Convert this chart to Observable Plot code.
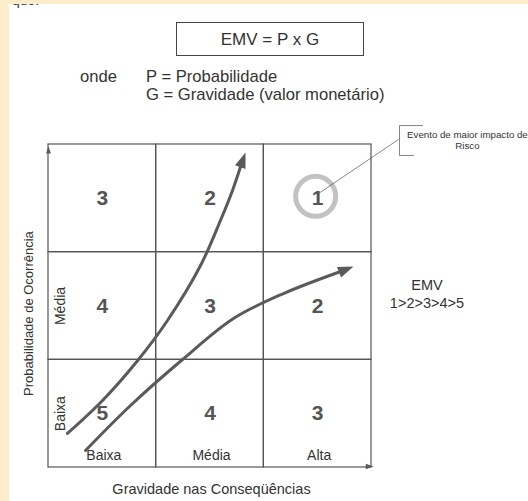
<!DOCTYPE html>
<html>
<head>
<meta charset="utf-8">
<script src="https://cdn.jsdelivr.net/npm/d3@7"></script>
<script src="https://cdn.jsdelivr.net/npm/@observablehq/plot@0.6"></script>
<style>
  body { margin: 0; }
  #page { position: relative; width: 528px; height: 501px; background: #fcecc9; overflow: hidden;
          font-family: "Liberation Sans", Arial, sans-serif; color: #333; }
  #sheet { position: absolute; left: 9px; top: 4px; width: 519px; height: 497px; background: #fff; overflow: hidden; }
  .t { position: absolute; white-space: nowrap; line-height: 1; }
  #box { position: absolute; left: 176px; top: 22px; width: 188px; height: 34px; box-sizing: border-box;
         border: 1.3px solid #444; display: flex; align-items: center; justify-content: center;
         font-size: 17px; line-height: 1; }
  #chart { position: absolute; left: 0; top: 110px; }
</style>
</head>
<body>
<div id="page">
  <div id="sheet">
    <div class="t" style="left:3px;top:-11.4px;font-size:14px;">que.</div>
  </div>
  <div id="box"></div>
  <div class="t" id="onde" style="left:80px;top:68.5px;font-size:16.6px;"></div>
  <div class="t" id="defP" style="left:146px;top:68.5px;font-size:16.6px;"></div>
  <div class="t" id="defG" style="left:146px;top:86.9px;font-size:16.6px;"></div>
  <div id="chart"></div>
</div>
<script>
// ---- text content ----
const formula = "EMV = P x G";
const ondeLabel = "onde";
const defP = "P = Probabilidade";
const defG = "G = Gravidade (valor monetário)";
const xTitle = "Gravidade nas Conseqüências";
const yTitle = "Probabilidade de Ocorrência";
const calloutText = "Evento de maior impacto de\nRisco";
const emvTitle = "EMV";
const ordemEMV = "1>2>3>4>5";

// ---- categories ----
const gravidade = ["Baixa", "Média", "Alta"];          // columns (x)
const probabilidade = ["Baixa", "Média", "Alta"];      // rows (y), bottom to top
const probLabels = ["Baixa", "Média"];                 // row labels printed on the axis

// ---- EMV rank per cell: rows = probabilidade (Baixa→Alta), cols = gravidade ----
const emvBaixa = [5, 4, 3];
const emvMedia = [4, 3, 2];
const emvAlta  = [3, 2, 1];
const emvRows = [emvBaixa, emvMedia, emvAlta];

// highlighted cell (maior impacto)
const destaqueCol = 2, destaqueRow = 2;

// ---- trend arrows (grid units, last point = arrow tip) ----
const arrowA_x = [0.176, 0.502, 0.836, 1.105, 1.412, 1.597, 1.709, 1.793, 1.830];
const arrowA_y = [0.316, 0.622, 1.003, 1.365, 1.876, 2.294, 2.573, 2.823, 2.926];
const arrowB_x = [0.344, 0.762, 1.245, 1.718, 2.183, 2.740, 2.833];
const arrowB_y = [0.158, 0.576, 1.003, 1.384, 1.616, 1.830, 1.867];

// ---- header (HTML) ----
document.getElementById("box").textContent = formula;
document.getElementById("onde").textContent = ondeLabel;
document.getElementById("defP").textContent = defP;
document.getElementById("defG").textContent = defG;

// ---- build tables ----
const cells = probabilidade.flatMap((p, i) => gravidade.map((g, j) => ({row: i, col: j, v: emvRows[i][j]})));
function pts(xs, ys) { return xs.map((x, i) => ({x, y: ys[i]})); }
const pathA = pts(arrowA_x, arrowA_y);
const pathB = pts(arrowB_x, arrowB_y);
function headOf(p) {
  const a = p[p.length - 2], b = p[p.length - 1];
  return {x: b.x, y: b.y, rotate: Math.atan2(b.x - a.x, b.y - a.y) * 180 / Math.PI};
}
const heads = [headOf(pathA), headOf(pathB)];

// arrowhead symbol: tip at origin, pointing up
const headSymbol = {
  draw(ctx, size) {
    const r = Math.sqrt(size / Math.PI);
    const L = 2.4 * r, w = 0.85 * r;
    ctx.moveTo(0, 0); ctx.lineTo(w, L); ctx.lineTo(-w, L); ctx.closePath();
  }
};

const ink = "#5a5a5a";
const gridInk = "#555";

const chart = Plot.plot({
  width: 528,
  height: 391,
  marginLeft: 48,
  marginRight: 157,
  marginTop: 34,
  marginBottom: 34,
  x: {domain: [0, 3], axis: null},
  y: {domain: [0, 3], axis: null},
  style: {fontFamily: '"Liberation Sans", Arial, sans-serif', background: "transparent", color: "#333", overflow: "visible"},
  marks: [
    // grid cells
    Plot.rect(cells, {x1: d => d.col, x2: d => d.col + 1, y1: d => d.row, y2: d => d.row + 1,
                      fill: "none", stroke: gridInk, strokeWidth: 1.2}),
    // highlighted ring
    Plot.dot([{col: destaqueCol, row: destaqueRow}], {x: d => d.col + 0.5, y: d => d.row + 0.5, dx: -2, dy: -2,
                      r: 20, fill: "none", stroke: "#c2c2c2", strokeWidth: 5}),
    // EMV numbers
    Plot.text(cells, {x: d => d.col + 0.5, y: d => d.row + 0.5, text: d => String(d.v),
                      fontSize: 21, fontWeight: "bold", fill: "#555"}),
    // axis arrowheads
    Plot.dot([{x: 0, y: 2.981, rotate: 0}, {x: 3.018, y: 0.009, rotate: 90}],
             {x: "x", y: "y", rotate: "rotate", r: d => d.rotate ? 5 : 4.2, symbol: headSymbol, fill: ink}),
    // category labels
    Plot.text(gravidade, {x: (d, i) => i + 0.5, y: 0, dx: 1.5, dy: -11.5, text: d => d, fontSize: 14, fill: "#333"}),
    Plot.text(probLabels, {x: 0, y: (d, i) => i + 0.5, dx: 12, rotate: -90, text: d => d, fontSize: 14, fill: "#333"}),
    // axis titles
    Plot.text([xTitle], {x: 1.5, y: 0, dx: 1.5, dy: 21.4, text: d => d, fontSize: 14.5, fill: "#333"}),
    Plot.text([yTitle], {x: 0, y: 1.43, dx: -19.5, rotate: -90, text: d => d, fontSize: 13, fill: "#333"}),
    // trend arrows
    Plot.line(pathA.slice(0, -1), {x: "x", y: "y", curve: "catmull-rom", stroke: ink, strokeWidth: 3}),
    Plot.line(pathB.slice(0, -1), {x: "x", y: "y", curve: "catmull-rom", stroke: ink, strokeWidth: 3}),
    Plot.dot(heads, {x: "x", y: "y", rotate: "rotate", r: 6.5, symbol: headSymbol, fill: ink}),
    // EMV ordering legend
    Plot.text([`${emvTitle}\n${ordemEMV}`], {x: 3.515, y: 1.622, text: d => d, fontSize: 14.5, lineHeight: 1.24, fill: "#333"}),
    // callout
    Plot.line([{x: 3.474, y: 3.176}, {x: 3.26, y: 3.176}, {x: 3.26, y: 2.898}, {x: 3.39, y: 2.898}],
              {x: "x", y: "y", stroke: "#666", strokeWidth: 0.8}),
    Plot.line([{x: 3.25, y: 3.046}, {x: 2.508, y: 2.545}], {x: "x", y: "y", stroke: "#555", strokeWidth: 0.7}),
    Plot.text([calloutText], {x: 3.891, y: 3.043, text: d => d, fontSize: 9.7, lineHeight: 1.13, fill: "#333"})
  ]
});
document.getElementById("chart").appendChild(chart);
</script>
</body>
</html>
